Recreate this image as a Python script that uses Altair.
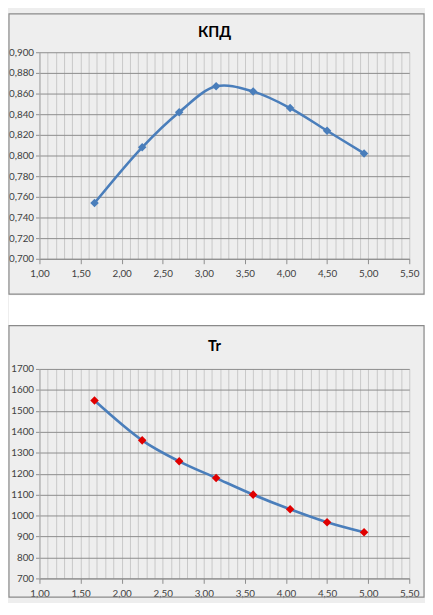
import altair as alt
import pandas as pd

# ---- data ----
x_vals = [1.67, 2.25, 2.70, 3.15, 3.60, 4.05, 4.50, 4.95]
kpd_vals = [0.754, 0.808, 0.842, 0.867, 0.862, 0.846, 0.824, 0.802]
tg_vals = [1549, 1359, 1259, 1179, 1100, 1030, 968, 920]

x_ticks = [1.0, 1.1, 1.2, 1.3, 1.4, 1.5, 1.6, 1.7, 1.8, 1.9,
           2.0, 2.1, 2.2, 2.3, 2.4, 2.5, 2.6, 2.7, 2.8, 2.9,
           3.0, 3.1, 3.2, 3.3, 3.4, 3.5, 3.6, 3.7, 3.8, 3.9,
           4.0, 4.1, 4.2, 4.3, 4.4, 4.5, 4.6, 4.7, 4.8, 4.9,
           5.0, 5.1, 5.2, 5.3, 5.4, 5.5]
kpd_ticks = [0.70, 0.72, 0.74, 0.76, 0.78, 0.80, 0.82, 0.84, 0.86, 0.88, 0.90]
tg_ticks = [700, 800, 900, 1000, 1100, 1200, 1300, 1400, 1500, 1600, 1700]
titles = ["КПД", "Tr"]

FONT = "Lato"
W = 376
H1 = 210
H2 = 213
LINE_BLUE = "#4a7ebb"
MAJOR = "abs(datum.value*2-round(datum.value*2))<0.001"

df1 = pd.DataFrame({"x": x_vals, "y": kpd_vals})
df2 = pd.DataFrame({"x": x_vals, "y": tg_vals})


def x_enc():
    return alt.X(
        "x:Q",
        scale=alt.Scale(domain=[1.0, 5.5], nice=False, zero=False),
        axis=alt.Axis(
            values=x_ticks, tickCount=len(x_ticks),
            labelExpr=MAJOR + " ? replace(format(datum.value,'.2f'),'.',',') : ''",
            grid=True, gridColor="#c8c8c8", gridWidth=1,
            tickColor={"condition": {"test": MAJOR, "value": "#8c8c8c"},
                       "value": "rgba(0,0,0,0)"},
            tickSize=5, domainColor="#8c8c8c",
            labelFont=FONT, labelFontSize=10, labelColor="#404040",
            labelPadding=5, labelOverlap=False, labelFlush=False,
            title=None,
        ),
    )


def y_enc(domain, values, fmt):
    return alt.Y(
        "y:Q",
        scale=alt.Scale(domain=domain, nice=False, zero=False),
        axis=alt.Axis(
            values=values, tickCount=len(values),
            labelExpr=fmt,
            grid=True, gridColor="#8c8c8c", gridWidth=1,
            tickSize=4, tickColor="#8c8c8c", domainColor="#a8a8a8",
            labelFont=FONT, labelFontSize=10, labelColor="#404040",
            labelPadding=2, labelOverlap=False, title=None,
        ),
    )


def panel(df, domain, values, fmt, title, h, point_color, frame_top, frame_bottom,
          title_y, gap=None):
    base = alt.Chart(df)
    line = base.mark_line(interpolate="catmull-rom", color=LINE_BLUE, strokeWidth=2.6).encode(
        x=x_enc(), y=y_enc(domain, values, fmt))
    pts = base.mark_point(shape="diamond", filled=True, size=75, color=point_color, opacity=1).encode(
        x="x:Q", y="y:Q")
    one = alt.Data(values=[{"t": title}])
    frame = alt.Chart(one).mark_rect(filled=False, stroke="#8a8a8a", strokeWidth=1.2).encode(
        x=alt.value(-31), x2=alt.value(W + 15),
        y=alt.value(frame_top), y2=alt.value(frame_bottom))
    ttl = alt.Chart(one).mark_text(font=FONT, fontSize=15, fontWeight="bold", color="#000000",
                                   align="center", baseline="middle").encode(
        text="t:N", x=alt.value(W / 2 - 10), y=alt.value(title_y))
    layers = [frame, ttl, line, pts]
    if gap is not None:
        white = alt.Chart(one).mark_rect(fill="white").encode(
            x=alt.value(-31), x2=alt.value(W + 16),
            y=alt.value(gap[0]), y2=alt.value(gap[1]))
        layers = [white] + layers
    return alt.layer(*layers).properties(width=W, height=h)


top = panel(df1, [0.70, 0.90], kpd_ticks,
            "replace(format(datum.value,'.3f'),'.',',')",
            titles[0], H1, LINE_BLUE, -39, 246, -20)
bottom = panel(df2, [700, 1700], tg_ticks,
               "format(datum.value,'d')",
               titles[1], H2, "#e00000", -44, 232, -23, gap=(-75, -44))

chart = alt.vconcat(top, bottom, spacing=0).properties(
    background="#eeeeee", padding=0
).configure_view(stroke=None)

chart.save("out.html", embed_options={"renderer": "svg", "actions": False})
